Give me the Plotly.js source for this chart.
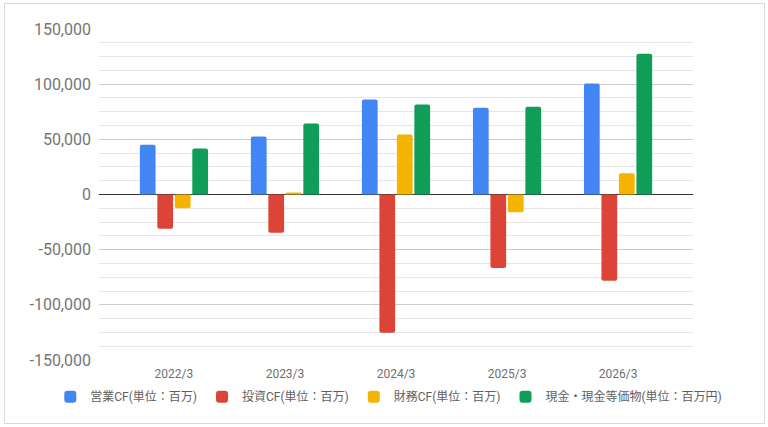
<!DOCTYPE html>
<html>
<head>
<meta charset="utf-8">
<script src="https://cdn.plot.ly/plotly-3.0.1.min.js"></script>
<style>
  body { margin: 0; background: #fff; }
  #plot { position: absolute; left: 4px; top: 3px; width: 759px; height: 419px; border: 1px solid #d9d9d9; }
</style>
</head>
<body>
<div id="plot"></div>
<script>
// fiscal years
let categories = ['2022/3', '2023/3', '2024/3', '2025/3', '2026/3'];

// values in million yen
let operatingCF = [45000, 52500, 86000, 78700, 100500];
let investingCF = [-31000, -34700, -125200, -66700, -78100];
let financingCF = [-12400, 1800, 54300, -16000, 19300];
let cashEq = [41600, 64300, 81500, 79600, 127600];

let seriesNames = ['営業CF(単位：百万)', '投資CF(単位：百万)', '財務CF(単位：百万)', '現金・現金等価物(単位：百万円)'];
let seriesColors = ['#4285f4', '#db4437', '#f4b400', '#0f9d58'];

let yTickVals = [150000, 100000, 50000, 0, -50000, -100000, -150000];
let yTickText = ['150,000', '100,000', '50,000', '0', '-50,000', '-100,000', '-150,000'];

let allSeries = [operatingCF, investingCF, financingCF, cashEq];

let data = allSeries.map(function (vals, i) {
  return {
    type: 'bar',
    x: categories,
    y: vals,
    name: seriesNames[i],
    marker: { color: seriesColors[i], cornerradius: 2 },
    hoverinfo: 'none'
  };
});

let layout = {
  width: 759,
  height: 419,
  margin: { l: 94, r: 71, t: 25, b: 61 },
  paper_bgcolor: '#ffffff',
  plot_bgcolor: '#ffffff',
  font: { family: 'Roboto, "Noto Sans CJK JP", sans-serif', color: '#666666' },
  barmode: 'group',
  bargap: 0.37,
  bargroupgap: 0.1,
  showlegend: true,
  legend: {
    orientation: 'h',
    x: -0.082,
    xanchor: 'left',
    y: -0.111,
    yanchor: 'middle',
    font: { size: 12, color: '#5f5f5f' },
    traceorder: 'normal'
  },
  xaxis: {
    type: 'category',
    range: [-0.675, 4.675],
    showgrid: false,
    showline: false,
    ticks: '',
    tickfont: { size: 12, color: '#6f6f6f' },
    ticklabelstandoff: 5
  },
  yaxis: {
    range: [-150000, 150000],
    tickmode: 'array',
    tickvals: yTickVals,
    ticktext: yTickText,
    tickfont: { size: 16, color: '#757575' },
    ticks: '',
    ticklabelstandoff: 7,
    showgrid: true,
    gridcolor: '#cccccc',
    gridwidth: 1,
    minor: { dtick: 12500, tick0: 0, showgrid: true, gridcolor: '#e6e6e6', gridwidth: 1 },
    zeroline: true,
    zerolinecolor: '#333333',
    zerolinewidth: 1,
    showline: false
  }
};

Plotly.newPlot('plot', data, layout, { displayModeBar: false, staticPlot: true });
</script>
</body>
</html>
